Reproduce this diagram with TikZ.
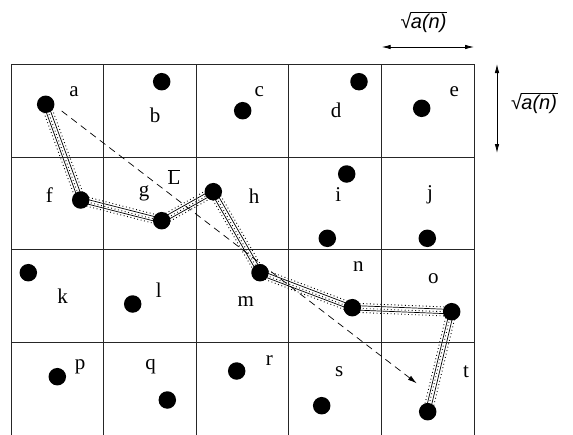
\documentclass[tikz,border=0pt]{standalone}
\usepackage{fontspec}
\setmainfont{Liberation Serif}
\newfontfamily\lsans{Liberation Sans}
\usetikzlibrary{calc,arrows.meta,backgrounds}
\newcommand\tubeseg[2]{%
  \draw[tubeline] ($(#1)!2.2pt!90:(#2)$) -- ($(#2)!2.2pt!-90:(#1)$);
  \draw[tubeline] ($(#1)!2.2pt!-90:(#2)$) -- ($(#2)!2.2pt!90:(#1)$);
  \draw[tubedot] ($(#1)!4.5pt!90:(#2)$) -- ($(#2)!4.5pt!-90:(#1)$);
  \draw[tubedot] ($(#1)!4.5pt!-90:(#2)$) -- ($(#2)!4.5pt!90:(#1)$);
  \draw[tubedot] ($(#1)!0.3pt!-90:(#2)$) -- ($(#2)!0.3pt!90:(#1)$);
}
\newcommand\sqan{{\lsans\char"221A\kern-0.6pt\vbox{\hrule height 0.7pt\kern1.2pt\hbox{\itshape a(n)\kern1pt}}}}
\tikzset{
  dot/.style={circle,fill=black,inner sep=0pt,minimum size=17.5pt},
  lbl/.style={inner sep=0pt,font=\fontsize{21}{25}\selectfont},
  gridline/.style={line width=0.8pt,draw=black!85},
  tubeline/.style={line width=0.7pt},
  tubedot/.style={line width=0.9pt,dash pattern=on 0.9pt off 2.6pt},
  dimarrow/.style={line width=0.8pt,{Latex[length=9pt,width=4.5pt]}-{Latex[length=9pt,width=4.5pt]}},
  dasharrow/.style={line width=0.7pt,dash pattern=on 7pt off 5pt,-{Latex[length=9pt,width=5pt]}},
  dimlbl/.style={inner sep=0pt,font=\fontsize{20}{24}\selectfont}
}
\begin{document}
\begin{tikzpicture}[x=1pt,y=-1pt]
\useasboundingbox (0,0) rectangle (573,434);
% grid
\foreach \yy in {64,157,249,342} \draw[gridline] (11,\yy) -- (474,\yy);
\foreach \xx in {11,103.6,196.2,288.8,381.4,474} \draw[gridline] (\xx,64) -- (\xx,436);
% dots
\node[dot] (da) at (45.7,104.3) {};
\node[dot] (db) at (161.7,81.7) {};
\node[dot] (dc) at (242.7,110.7) {};
\node[dot] (dd) at (359,81.7) {};
\node[dot] (de) at (421.7,108.3) {};
\node[dot] (df) at (80.7,200) {};
\node[dot] (dg) at (161.7,220.7) {};
\node[dot] (dh) at (213.3,191.7) {};
\node[dot] (di) at (346.7,174) {};
\node[dot] (di2) at (327.3,238.3) {};
\node[dot] (dj) at (427.3,238.3) {};
\node[dot] (dk) at (28.3,272.7) {};
\node[dot] (dl) at (132.7,304) {};
\node[dot] (dm) at (260,272.7) {};
\node[dot] (dn) at (352.3,307.7) {};
\node[dot] (do) at (451.7,311.7) {};
\node[dot] (dp) at (57.3,376.7) {};
\node[dot] (dq) at (167.3,400) {};
\node[dot] (dr) at (236.7,371) {};
\node[dot] (ds) at (321.7,405.7) {};
\node[dot] (dt) at (427.7,411.7) {};
% labels
\node[lbl] (la) at (74,92) {a};
\node[lbl] (lb) at (155,115) {b};
\node[lbl] (lc) at (259.3,92) {c};
\node[lbl] (ld) at (336,110) {d};
\node[lbl] (le) at (454.3,92) {e};
\node[lbl] (lf) at (49.3,195) {f};
\node[lbl] (lg) at (144,193) {g};
\node[lbl] (lL) at (174,177) {$\overline{\mbox{L}}$};
\node[lbl] (lh) at (254,196) {h};
\node[lbl] (li) at (338.3,195) {i};
\node[lbl] (lj) at (430,195) {j};
\node[lbl] (lk) at (62.7,296) {k};
\node[lbl] (ll) at (158.7,290) {l};
\node[lbl] (lm) at (245.7,301.7) {m};
\node[lbl] (ln) at (358.3,266.7) {n};
\node[lbl] (lo) at (433.3,278.3) {o};
\node[lbl] (lp) at (80,366.7) {p};
\node[lbl] (lq) at (150.7,366.7) {q};
\node[lbl] (lr) at (269.3,360.7) {r};
\node[lbl] (ls) at (339.3,371.7) {s};
\node[lbl] (lt) at (466,371.7) {t};
% tour tubes
\begin{scope}[on background layer]
\tubeseg{da}{df}
\tubeseg{df}{dg}
\tubeseg{dg}{dh}
\tubeseg{dh}{dm}
\tubeseg{dm}{dn}
\tubeseg{dn}{do}
\tubeseg{do}{dt}
\end{scope}
% dashed direction arrow
\coordinate (dstart) at (61.7,111);
\coordinate (dend) at (416.7,383.3);
\draw[dasharrow] (dstart) -- (dend);
% dimension arrows
\coordinate (hl) at (381.7,47);
\coordinate (hr) at (474,47);
\draw[dimarrow] (hl) -- (hr);
\node[dimlbl] (htext) at (424,22) {\sqan};
\coordinate (vt) at (497,64);
\coordinate (vb) at (497,153);
\draw[dimarrow] (vt) -- (vb);
\node[dimlbl] (vtext) at (534.5,103) {\sqan};
\end{tikzpicture}
\end{document}
